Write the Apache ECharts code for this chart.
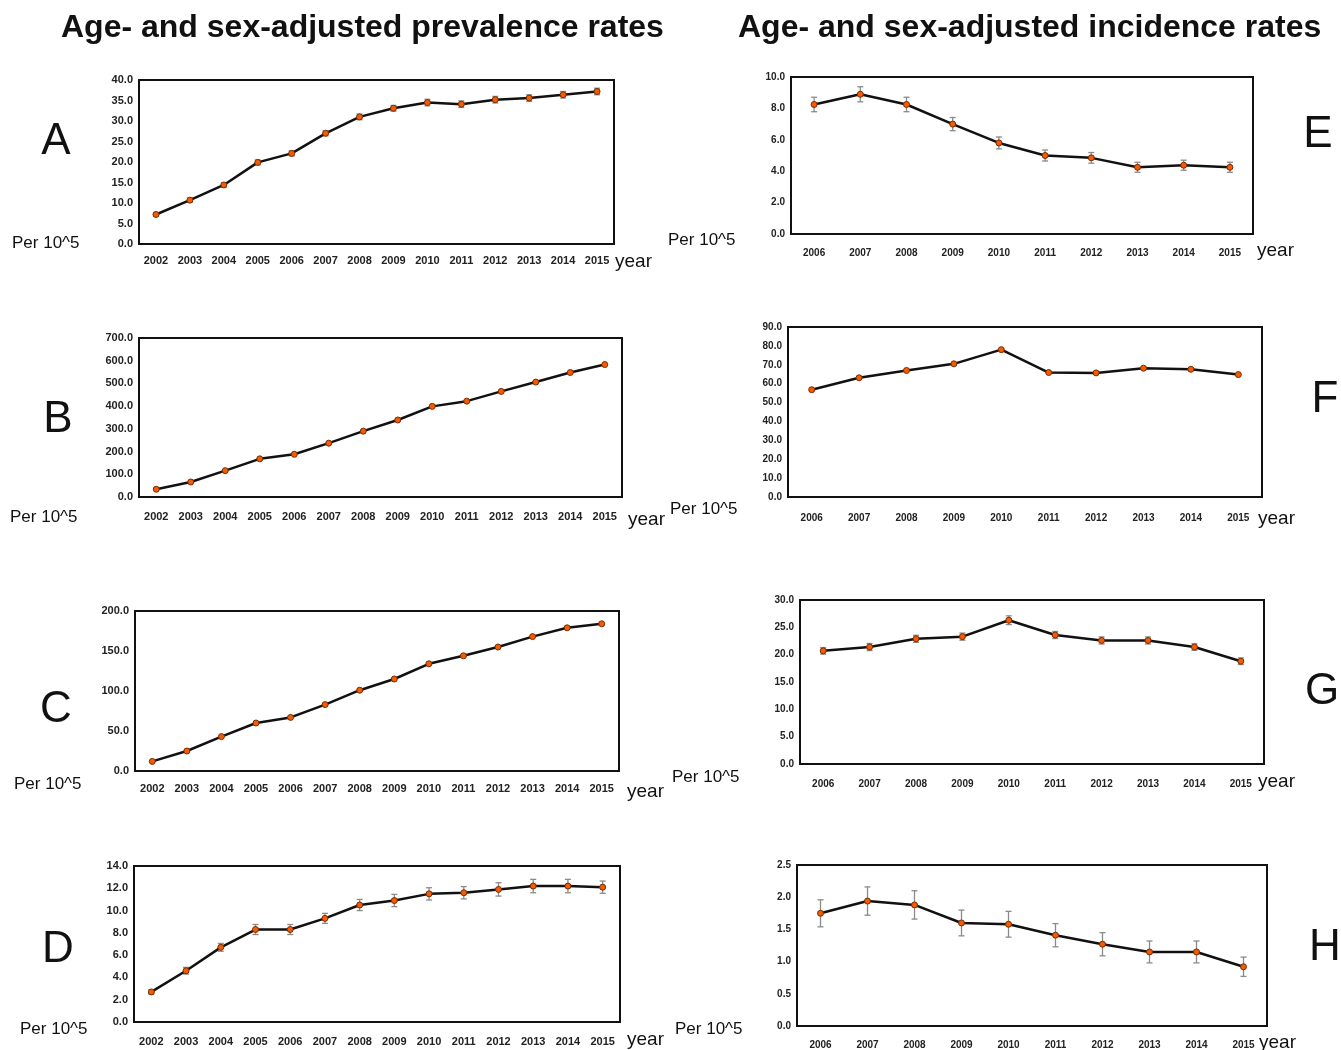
<!DOCTYPE html>
<html>
<head>
<meta charset="utf-8">
<title>Age- and sex-adjusted rates</title>
<script src="https://cdn.jsdelivr.net/npm/echarts@6/dist/echarts.min.js"></script>
<style>
    html, body { margin: 0; padding: 0; background: #fff; }
    #chart { width: 1341px; height: 1050px; }
</style>
</head>
<body>
<div id="chart"></div>
<script>
// 年份
const yearsPrev = ['2002', '2003', '2004', '2005', '2006', '2007', '2008', '2009', '2010', '2011', '2012', '2013', '2014', '2015'];
const yearsInc = ['2006', '2007', '2008', '2009', '2010', '2011', '2012', '2013', '2014', '2015'];

// 患病率 (A-D)
const prevA = [7.2, 10.7, 14.4, 19.9, 22.1, 27.0, 31.0, 33.1, 34.5, 34.1, 35.2, 35.6, 36.4, 37.2];
const errA = [0.4, 0.5, 0.5, 0.6, 0.6, 0.6, 0.7, 0.7, 0.8, 0.8, 0.8, 0.8, 0.8, 0.8];
const prevB = [34, 66, 116, 168, 188, 237, 290, 339, 399, 422, 465, 506, 548, 583];
const prevC = [12, 25, 43, 60, 67, 83, 101, 115, 134, 144, 155, 168, 179, 184];
const prevD = [2.7, 4.6, 6.7, 8.3, 8.3, 9.3, 10.5, 10.9, 11.5, 11.6, 11.9, 12.2, 12.2, 12.1];
const errD = [0.2, 0.3, 0.35, 0.45, 0.45, 0.45, 0.5, 0.55, 0.55, 0.55, 0.6, 0.6, 0.6, 0.55];

// 发病率 (E-H)
const incE = [8.25, 8.9, 8.25, 7.0, 5.8, 5.0, 4.85, 4.25, 4.38, 4.25];
const errE = [0.46, 0.48, 0.46, 0.42, 0.38, 0.35, 0.34, 0.32, 0.32, 0.32];
const incF = [56.8, 63.1, 67.0, 70.5, 78.0, 65.9, 65.7, 68.2, 67.6, 64.8];
const incG = [20.7, 21.4, 22.9, 23.3, 26.3, 23.6, 22.6, 22.6, 21.4, 18.8];
const errG = [0.6, 0.65, 0.65, 0.65, 0.8, 0.65, 0.65, 0.65, 0.6, 0.6];
const incH = [1.75, 1.94, 1.88, 1.60, 1.58, 1.41, 1.27, 1.15, 1.15, 0.92];
const errH = [0.21, 0.22, 0.22, 0.2, 0.2, 0.18, 0.18, 0.17, 0.17, 0.15];

// 各面板布局
const panels = [
    { letter: 'A', cats: yearsPrev, data: prevA, err: errA, max: 40, step: 5, box: [139, 80, 475, 164], fs: 11, letterPos: [56, 142], perPos: [12, 243], yearPos: [615, 262], labelGap: 11 },
    { letter: 'B', cats: yearsPrev, data: prevB, err: null, max: 700, step: 100, box: [139, 338, 483, 159], fs: 11, letterPos: [58, 420], perPos: [10, 517], yearPos: [628, 520], labelGap: 14 },
    { letter: 'C', cats: yearsPrev, data: prevC, err: null, max: 200, step: 50, box: [135, 611, 484, 160], fs: 11, letterPos: [56, 710], perPos: [14, 784], yearPos: [627, 792], labelGap: 12 },
    { letter: 'D', cats: yearsPrev, data: prevD, err: errD, max: 14, step: 2, box: [134, 866, 486, 156], fs: 11, letterPos: [58, 950], perPos: [20, 1029], yearPos: [627, 1040], labelGap: 14 },
    { letter: 'E', cats: yearsInc, data: incE, err: errE, max: 10, step: 2, box: [791, 77, 462, 157], fs: 10, letterPos: [1318, 135], perPos: [668, 240], yearPos: [1257, 251], labelGap: 14 },
    { letter: 'F', cats: yearsInc, data: incF, err: null, max: 90, step: 10, box: [788, 327, 474, 170], fs: 10, letterPos: [1325, 400], perPos: [670, 509], yearPos: [1258, 519], labelGap: 16 },
    { letter: 'G', cats: yearsInc, data: incG, err: errG, max: 30, step: 5, box: [800, 600, 464, 164], fs: 10, letterPos: [1322, 692], perPos: [672, 777], yearPos: [1258, 782], labelGap: 15 },
    { letter: 'H', cats: yearsInc, data: incH, err: errH, max: 2.5, step: 0.5, box: [797, 865, 470, 161], fs: 10, letterPos: [1325, 948], perPos: [675, 1029], yearPos: [1259, 1043], labelGap: 14 }
];

const FONT = 'Arial, "Liberation Sans", sans-serif';

// 误差线
function renderErrorBar(params, api) {
    const idx = api.value(0);
    const hi = api.coord([idx, api.value(1)]);
    const lo = api.coord([idx, api.value(2)]);
    const cap = 3;
    const style = { stroke: '#8a8a8a', lineWidth: 1.3 };
    return {
        type: 'group',
        children: [
            { type: 'line', shape: { x1: hi[0], y1: hi[1], x2: lo[0], y2: lo[1] }, style: style },
            { type: 'line', shape: { x1: hi[0] - cap, y1: hi[1], x2: hi[0] + cap, y2: hi[1] }, style: style },
            { type: 'line', shape: { x1: lo[0] - cap, y1: lo[1], x2: lo[0] + cap, y2: lo[1] }, style: style }
        ]
    };
}

function buildOption() {
    const grid = [], xAxis = [], yAxis = [], series = [], graphic = [];

    // 标题
    graphic.push({ type: 'text', left: 61, top: 12, style: { text: 'Age- and sex-adjusted prevalence rates', font: 'bold 32px ' + FONT, fill: '#111' } });
    graphic.push({ type: 'text', left: 738, top: 12, style: { text: 'Age- and sex-adjusted incidence rates', font: 'bold 32px ' + FONT, fill: '#111' } });

    panels.forEach(function(p, i) {
        grid.push({
            left: p.box[0], top: p.box[1], width: p.box[2], height: p.box[3],
            show: true, borderColor: '#111', borderWidth: 2, backgroundColor: '#fff'
        });
        xAxis.push({
            type: 'category', gridIndex: i, data: p.cats, boundaryGap: true,
            axisLine: { show: false }, axisTick: { show: false }, splitLine: { show: false },
            axisLabel: { interval: 0, margin: p.labelGap, fontSize: p.fs, fontWeight: 'bold', color: '#222', fontFamily: FONT }
        });
        yAxis.push({
            type: 'value', gridIndex: i, min: 0, max: p.max, interval: p.step,
            axisLine: { show: false }, axisTick: { show: false }, splitLine: { show: false },
            axisLabel: {
                margin: 6, fontSize: p.fs, fontWeight: 'bold', color: '#222', fontFamily: FONT,
                formatter: function(v) { return v.toFixed(1); }
            }
        });

        if (p.err) {
            series.push({
                type: 'custom', xAxisIndex: i, yAxisIndex: i, z: 2,
                renderItem: renderErrorBar,
                data: p.data.map(function(v, k) { return [k, v + p.err[k], v - p.err[k]]; })
            });
        }
        series.push({
            type: 'line', xAxisIndex: i, yAxisIndex: i, z: 3,
            data: p.data,
            symbol: 'circle', symbolSize: 6,
            lineStyle: { color: '#111', width: 2.5 },
            itemStyle: { color: '#f25c05', borderColor: '#7a2a00', borderWidth: 1 }
        });

        // 面板字母、单位、年份标签
        graphic.push({ type: 'text', x: p.letterPos[0], y: p.letterPos[1], style: { text: p.letter, font: '44px ' + FONT, fill: '#111', align: 'center', verticalAlign: 'middle' } });
        graphic.push({ type: 'text', x: p.perPos[0], y: p.perPos[1], style: { text: 'Per 10^5', font: '17px ' + FONT, fill: '#111', verticalAlign: 'middle' } });
        graphic.push({ type: 'text', x: p.yearPos[0], y: p.yearPos[1], style: { text: 'year', font: '19px ' + FONT, fill: '#111', verticalAlign: 'middle' } });
    });

    return { animation: false, grid: grid, xAxis: xAxis, yAxis: yAxis, series: series, graphic: graphic };
}

document.addEventListener('DOMContentLoaded', function() {
    if (typeof echarts === 'undefined') {
        console.error('ECharts not loaded');
        return;
    }
    const myChart = echarts.init(document.getElementById('chart'));
    myChart.setOption(buildOption());
});
</script>
</body>
</html>
